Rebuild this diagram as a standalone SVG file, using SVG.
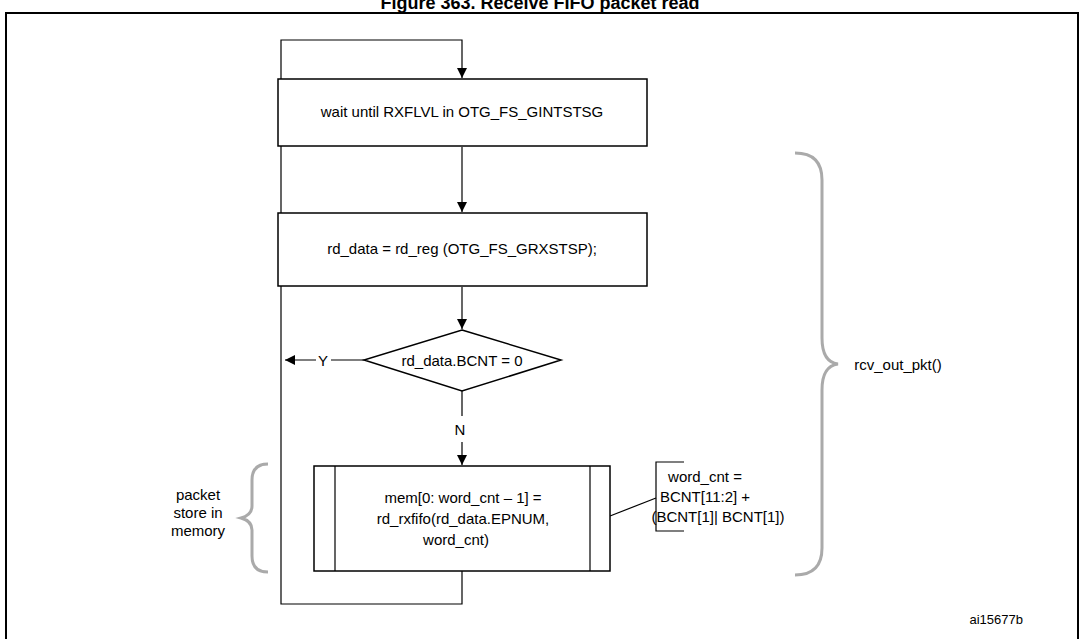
<svg xmlns="http://www.w3.org/2000/svg" width="1079" height="639" viewBox="0 0 1079 639">
<defs><marker id="a" viewBox="0 0 10 10" refX="10" refY="5" markerWidth="10" markerHeight="10" markerUnits="userSpaceOnUse" orient="auto"><path d="M0,0L10,5L0,10z" fill="#000"/></marker>
<style>text{font-family:"Liberation Sans",Arial,sans-serif;font-size:15px;fill:#000}.b{fill:#fff;stroke:#000;stroke-width:1.5}.l{fill:none;stroke:#000;stroke-width:1.2}.g{fill:none;stroke:#aaa;stroke-width:3}</style></defs>
<rect width="1079" height="639" fill="#fff"/>
<text x="540" y="9" text-anchor="middle" style="font-weight:bold;font-size:18px">Figure 363. Receive FIFO packet read</text>
<rect x="6" y="13" width="1072" height="640" fill="none" stroke="#000" stroke-width="2"/>
<g id="connectors">
<path class="l" d="M462,571V604H281V40H462V78" marker-end="url(#a)"/>
<path class="l" d="M462,147V212" marker-end="url(#a)"/>
<path class="l" d="M462,287V329" marker-end="url(#a)"/>
<path class="l" d="M364,360H331M316,360H285" marker-end="url(#a)"/>
<text x="323" y="366" text-anchor="middle">Y</text>
<path class="l" d="M462,391V416M462,442V465" marker-end="url(#a)"/>
<text x="460" y="435" text-anchor="middle">N</text>
<path class="l" d="M610,516L656,498"/>
</g>
<g id="n1"><rect class="b" x="278" y="79" width="369" height="67"/><text x="462" y="117" text-anchor="middle">wait until RXFLVL in OTG_FS_GINTSTSG</text></g>
<g id="n2"><rect class="b" x="278" y="213" width="369" height="73"/><text x="462" y="254" text-anchor="middle">rd_data = rd_reg (OTG_FS_GRXSTSP);</text></g>
<g id="n3"><path class="b" d="M462,330L561,360L462,391L364,360z"/><text x="462" y="366" text-anchor="middle">rd_data.BCNT = 0</text></g>
<g id="n4"><rect class="b" x="314" y="466" width="296" height="105"/><path class="l" d="M335,466V571M590,466V571"/>
<text x="463" y="503" text-anchor="middle">mem[0: word_cnt – 1] =</text><text x="463" y="524" text-anchor="middle">rd_rxfifo(rd_data.EPNUM,</text><text x="456" y="545" text-anchor="middle">word_cnt)</text></g>
<g id="n5"><path class="l" d="M684,462H656V531H684"/><text x="705" y="482" text-anchor="middle">word_cnt =</text><text x="705" y="502" text-anchor="middle">BCNT[11:2] +</text><text x="718" y="522" text-anchor="middle">(BCNT[1]| BCNT[1])</text></g>
<g id="n6"><path class="g" d="M795,153Q822,153 822,180V338Q822,362 838,364Q822,366 822,390V548Q822,575 795,575"/><text x="898" y="370" text-anchor="middle">rcv_out_pkt()</text></g>
<g id="n7"><path class="g" d="M268,464Q252,464 252,480V506Q252,515 241,518Q252,521 252,530V556Q252,572 268,572"/><text x="198" y="500" text-anchor="middle">packet</text><text x="198" y="518" text-anchor="middle">store in</text><text x="198" y="536" text-anchor="middle">memory</text></g>
<text x="1023" y="624" text-anchor="end" style="font-size:13px">ai15677b</text>
</svg>
